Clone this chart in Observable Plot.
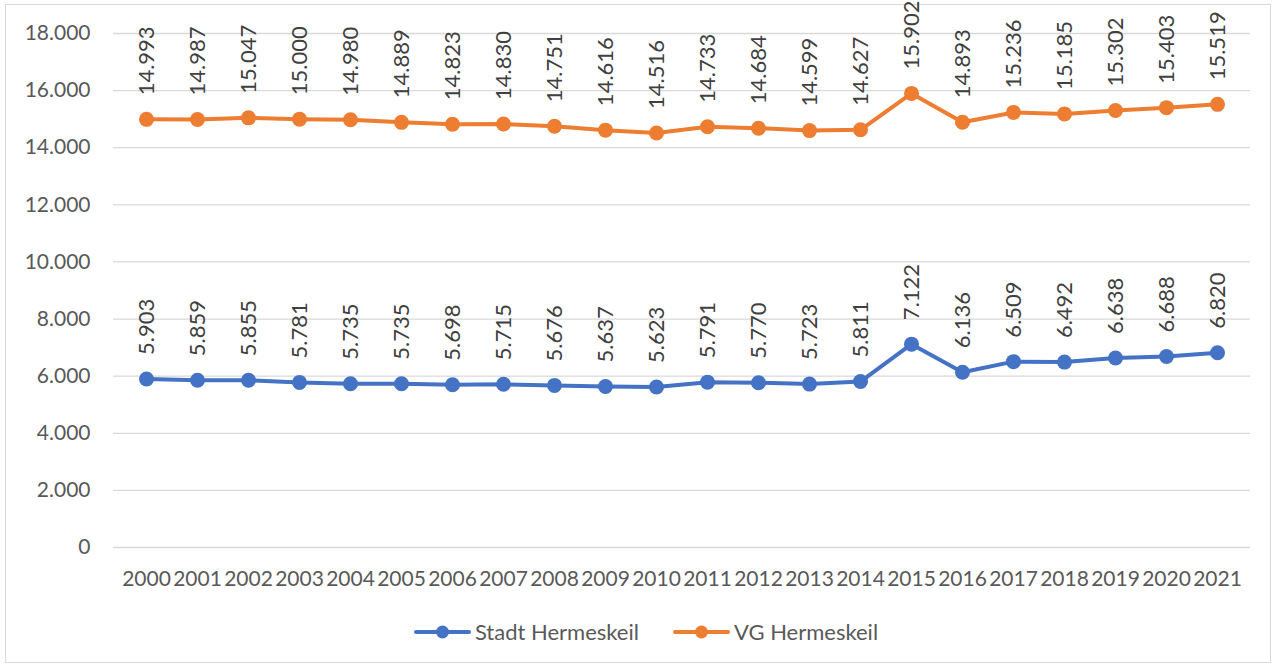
<!DOCTYPE html>
<html>
<head>
<meta charset="utf-8">
<script src="https://cdn.jsdelivr.net/npm/d3@7"></script>
<script src="https://cdn.jsdelivr.net/npm/@observablehq/plot@0.6"></script>
<style>
  body { margin: 0; background: #fff; font-family: Lato, "Open Sans", sans-serif; }
  #wrap { position: relative; width: 1280px; height: 665px; }
  #border { position: absolute; left: 5px; top: 4px; width: 1264px; height: 657px; border: 1px solid #d9d9d9; }
  #chart { position: absolute; left: 0; top: 0; }
  #legend { position: absolute; left: 0; top: 618px; width: 1292px; display: flex; justify-content: center; gap: 34px; font-size: 22px; color: #595959; }
  .item { display: flex; align-items: center; gap: 4px; }
</style>
</head>
<body>
<div id="wrap">
  <div id="border"></div>
  <div id="chart"></div>
  <div id="legend"></div>
</div>
<script>
const years = ["2000","2001","2002","2003","2004","2005","2006","2007","2008","2009","2010","2011","2012","2013","2014","2015","2016","2017","2018","2019","2020","2021"];
const stadt = [5903,5859,5855,5781,5735,5735,5698,5715,5676,5637,5623,5791,5770,5723,5811,7122,6136,6509,6492,6638,6688,6820];
const vg = [14993,14987,15047,15000,14980,14889,14823,14830,14751,14616,14516,14733,14684,14599,14627,15902,14893,15236,15185,15302,15403,15519];
const seriesNames = ["Stadt Hermeskeil", "VG Hermeskeil"];
const colors = ["#4472C4", "#ED7D31"];
const yTicks = [0,2000,4000,6000,8000,10000,12000,14000,16000,18000];

const de = d3.formatLocale({decimal: ",", thousands: ".", grouping: [3], currency: ["", "€"]});
const fmt = de.format(",d");

const data = [];
years.forEach((y, i) => {
  data.push({year: y, value: stadt[i], series: seriesNames[0]});
  data.push({year: y, value: vg[i], series: seriesNames[1]});
});

const chart = Plot.plot({
  width: 1280,
  height: 600,
  marginLeft: 113,
  marginRight: 30,
  marginTop: 33,
  marginBottom: 53,
  style: {fontFamily: "Lato, 'Open Sans', sans-serif", fontSize: "21px", color: "#595959", background: "transparent"},
  x: {type: "point", domain: years, padding: 0.5, label: null, tickSize: 0, tickPadding: 24},
  y: {domain: [0, 18000], ticks: yTicks, tickFormat: fmt, label: null, tickSize: 0, tickPadding: 23},
  color: {domain: seriesNames, range: colors},
  marks: [
    Plot.ruleY(yTicks, {stroke: "#d9d9d9", strokeWidth: 1.3}),
    Plot.line(data, {x: "year", y: "value", z: "series", stroke: "series", strokeWidth: 4}),
    Plot.dot(data, {x: "year", y: "value", fill: "series", r: 7.5}),
    Plot.text(data, {x: "year", y: "value", text: d => fmt(d.value), rotate: -90, textAnchor: "start", dy: -24, fill: "#404040", fontSize: 22})
  ]
});
document.getElementById("chart").appendChild(chart);

const legend = document.getElementById("legend");
seriesNames.forEach((name, i) => {
  const item = document.createElement("div");
  item.className = "item";
  item.innerHTML = `<svg width="57" height="16"><line x1="2" y1="8" x2="55" y2="8" stroke="${colors[i]}" stroke-width="4" stroke-linecap="round"/><circle cx="28.5" cy="8" r="6.5" fill="${colors[i]}"/></svg><span>${name}</span>`;
  legend.appendChild(item);
});
</script>
</body>
</html>
